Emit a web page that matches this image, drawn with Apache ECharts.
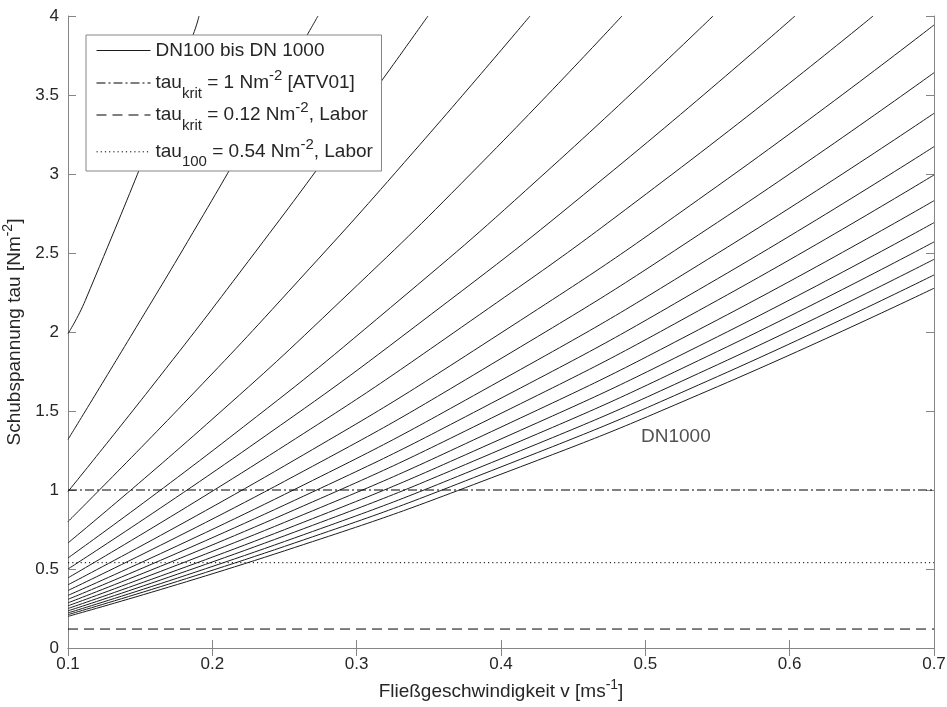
<!DOCTYPE html>
<html><head><meta charset="utf-8">
<script src="https://cdn.jsdelivr.net/npm/echarts@6/dist/echarts.min.js"></script>
<style>html,body{margin:0;padding:0;background:#fff}#c{width:947px;height:707px}</style>
</head><body><div id="c"></div>
<script>
// Pipe diameters (one curve each)
const diameters = ['DN100','DN150','DN200','DN250','DN300','DN350','DN400','DN450','DN500','DN550','DN600','DN650','DN700','DN750','DN800','DN850','DN900','DN950','DN1000'];
// velocities v [m/s]
const curveV = [
  [0.1, 0.112, 0.1866, 0.1908],
  [0.1, 0.1433, 0.1866, 0.2299, 0.2732],
  [0.1, 0.1624, 0.2247, 0.2871, 0.3494],
  [0.1, 0.18, 0.26, 0.34, 0.4201],
  [0.1, 0.196, 0.2919, 0.3879, 0.4838],
  [0.1, 0.2117, 0.3235, 0.4352, 0.5469],
  [0.1, 0.2259, 0.3519, 0.4778, 0.6037],
  [0.1, 0.2395, 0.3789, 0.5184, 0.6578],
  [0.1, 0.25, 0.4, 0.55, 0.7],
  [0.1, 0.25, 0.4, 0.55, 0.7],
  [0.1, 0.25, 0.4, 0.55, 0.7],
  [0.1, 0.25, 0.4, 0.55, 0.7],
  [0.1, 0.25, 0.4, 0.55, 0.7],
  [0.1, 0.25, 0.4, 0.55, 0.7],
  [0.1, 0.25, 0.4, 0.55, 0.7],
  [0.1, 0.25, 0.4, 0.55, 0.7],
  [0.1, 0.25, 0.4, 0.55, 0.7],
  [0.1, 0.25, 0.4, 0.55, 0.7],
  [0.1, 0.25, 0.4, 0.55, 0.7]
];
// shear stress tau [N/m2]
const curveTau = [
  [1.99, 2.2, 3.88, 4],
  [1.32, 1.97, 2.63, 3.31, 4],
  [0.99, 1.705, 2.445, 3.21, 4],
  [0.80, 1.546, 2.328, 3.146, 4],
  [0.665, 1.416, 2.222, 3.083, 4],
  [0.57, 1.33, 2.155, 3.045, 4],
  [0.50, 1.273, 2.114, 3.023, 4],
  [0.444, 1.219, 2.07, 2.997, 4],
  [0.40, 1.153, 1.994, 2.924, 3.943],
  [0.364, 1.055, 1.832, 2.694, 3.641],
  [0.333, 0.972, 1.694, 2.498, 3.384],
  [0.308, 0.905, 1.581, 2.337, 3.173],
  [0.286, 0.847, 1.485, 2.201, 2.994],
  [0.267, 0.795, 1.398, 2.077, 2.831],
  [0.25, 0.749, 1.323, 1.97, 2.692],
  [0.235, 0.71, 1.257, 1.877, 2.57],
  [0.222, 0.674, 1.198, 1.793, 2.46],
  [0.211, 0.643, 1.146, 1.718, 2.361],
  [0.2, 0.615, 1.10, 1.654, 2.277]
];
// reference levels
const curveName = 'DN100 bis DN 1000';
const refNames = ['tau_krit = 1 Nm-2 [ATV01]', 'tau_krit = 0.12 Nm-2, Labor', 'tau_100 = 0.54 Nm-2, Labor'];
const refLevels = [1, 0.12, 0.54];
const xRange = [0.1, 0.7];
const annotation = { text: 'DN1000', v: 0.497, tau: 1.335 };

const FONT = 'Liberation Sans';
const TXT = '#262626';
const AX = '#858585';
const LINE = '#1c1c1c';
const legendLabels = {
  [curveName]: '{n|DN100 bis DN 1000}',
  [refNames[0]]: '{n|tau}{s|krit}{n| = 1 Nm}{p|-2}{n| [ATV01]}',
  [refNames[1]]: '{n|tau}{s|krit}{n| = 0.12 Nm}{p|-2}{n|, Labor}',
  [refNames[2]]: '{n|tau}{b|100}{n| = 0.54 Nm}{p|-2}{n|, Labor}'
};
const richText = {
  n: { fontSize: 19, fontFamily: FONT, color: TXT, lineHeight: 24 },
  s: { fontSize: 15, fontFamily: FONT, color: TXT, lineHeight: 24, padding: [11, 0, -11, 0] },
  b: { fontSize: 15, fontFamily: FONT, color: TXT, lineHeight: 24, padding: [10, 0, -10, 0] },
  p: { fontSize: 15, fontFamily: FONT, color: TXT, lineHeight: 24, padding: [-7, 0, 7, 0] }
};

const series = [];
diameters.forEach((d, i) => {
  series.push({
    name: curveName, type: 'line', symbol: 'none', silent: true,
    smooth: true,
    lineStyle: { color: LINE, width: 1 },
    data: curveV[i].map((v, k) => [v, curveTau[i][k]]),
    clip: true, z: 2
  });
});
const dashTypes = [[9, 3, 2, 3], [10, 6], [1.2, 3]];
refLevels.forEach((lv, i) => {
  series.push({
    name: refNames[i], type: 'line', symbol: 'none', silent: true,
    lineStyle: { color: '#000', width: 1, type: dashTypes[i] },
    data: [[xRange[0], lv], [xRange[1], lv]], z: 2
  });
});
series.push({
  type: 'scatter', symbolSize: 0, silent: true,
  data: [[annotation.v, annotation.tau]],
  label: { show: true, position: 'right', distance: 0, formatter: annotation.text,
           fontFamily: FONT, fontSize: 19, color: TXT }
});

const axisCommon = {
  axisLine: { show: true, lineStyle: { color: AX, width: 1 } },
  axisTick: { show: true, inside: true, length: 8, lineStyle: { color: AX } },
  splitLine: { show: false }
};

// legend: framed box with first entry, then one borderless legend per reference line
const legendBase = {
  orient: 'vertical', itemWidth: 54, itemHeight: 14, selectedMode: false,
  itemStyle: { opacity: 0, color: 'rgba(0,0,0,0)', borderWidth: 0 },
  lineStyle: { width: 1 },
  formatter: n => legendLabels[n],
  textStyle: { rich: richText }
};
const legendTops = [68.5, 100.5, 137.3];
const legends = [Object.assign({
  data: [curveName], left: 86, top: 35,
  padding: [6, 57, 111, 10],
  backgroundColor: '#fff', borderColor: AX, borderWidth: 1, z: 10
}, legendBase)];
refNames.forEach((nm, i) => {
  legends.push(Object.assign({
    data: [nm], left: 96, top: legendTops[i], padding: 0,
    backgroundColor: 'transparent', borderWidth: 0, z: 11
  }, legendBase));
});

const chart = echarts.init(document.getElementById('c'), null, { renderer: 'canvas' });
chart.setOption({
  animation: false,
  backgroundColor: '#fff',
  grid: { left: 68, right: 13, top: 16, bottom: 59, outerBoundsMode: 'none', containLabel: false },
  legend: legends,
  xAxis: [Object.assign({
    type: 'value', min: xRange[0], max: xRange[1], interval: 0.1, position: 'bottom',
    name: '{n|Fließgeschwindigkeit v [ms}{p|-1}{n|]}', nameLocation: 'middle', nameGap: 31,
    nameTextStyle: { rich: {
      n: { fontSize: 19, fontFamily: FONT, color: TXT, lineHeight: 22 },
      p: { fontSize: 14, fontFamily: FONT, color: TXT, lineHeight: 22, padding: [-7, 0, 7, 0] } } },
    axisLabel: { fontFamily: FONT, fontSize: 17, color: TXT, margin: 8, formatter: v => v.toFixed(1) }
  }, axisCommon), Object.assign({
    type: 'value', min: xRange[0], max: xRange[1], interval: 0.1, position: 'top',
    axisLabel: { show: false }
  }, axisCommon)],
  yAxis: [Object.assign({
    type: 'value', min: 0, max: 4, interval: 0.5, position: 'left',
    name: '{n|Schubspannung tau [Nm}{p|-2}{n|]}', nameLocation: 'middle', nameGap: 35, nameRotate: 90,
    nameTextStyle: { rich: {
      n: { fontSize: 19, fontFamily: FONT, color: TXT, lineHeight: 22 },
      p: { fontSize: 14, fontFamily: FONT, color: TXT, lineHeight: 22, padding: [-7, 0, 7, 0] } } },
    axisLabel: { fontFamily: FONT, fontSize: 17, color: TXT, margin: 9 }
  }, axisCommon), Object.assign({
    type: 'value', min: 0, max: 4, interval: 0.5, position: 'right',
    axisLabel: { show: false }
  }, axisCommon)],
  series
});
</script></body></html>
